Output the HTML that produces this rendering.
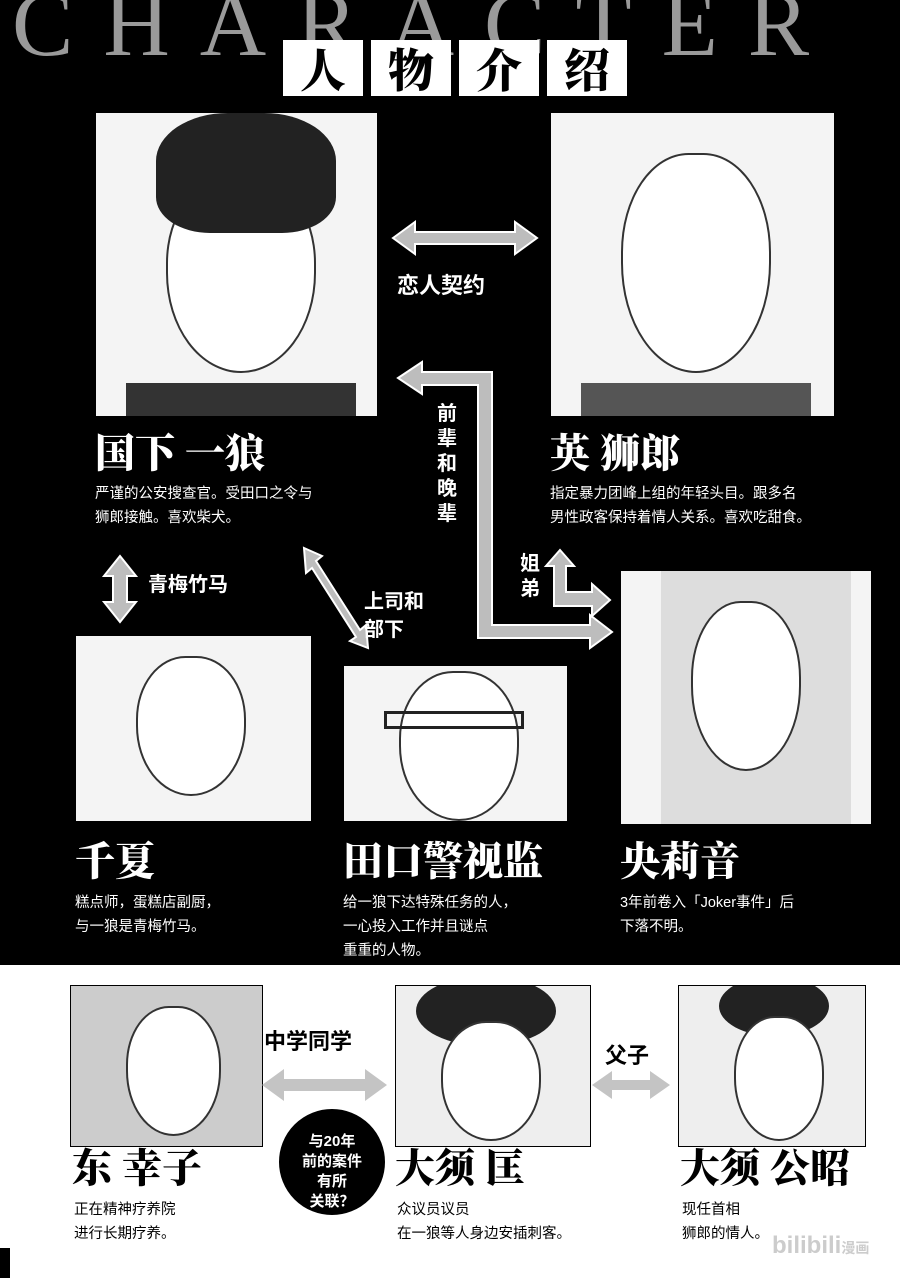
<!DOCTYPE html>
<html><head><meta charset="utf-8"><style>
*{margin:0;padding:0;box-sizing:border-box}
body{width:900px;height:1278px;position:relative;overflow:hidden;background:#000;font-family:"Liberation Sans","Noto Sans CJK SC",sans-serif}
.a{position:absolute}
.p{position:absolute;background:#f4f4f4;border:1px solid #000;overflow:hidden}
.w{color:#fff}
.nm{position:absolute;font-family:"Liberation Serif","Noto Serif CJK SC",serif;font-weight:900;font-size:40px;line-height:44px}
.ds{position:absolute;font-size:14.5px;line-height:24px}
.hair{position:absolute;background:#222;border-radius:50%}
.face{position:absolute;background:#fff;border:2px solid #333;border-radius:45% 45% 50% 50%}
</style></head><body>
<div class="a" style="left:0;top:-22px;width:900px;font-family:'Liberation Serif',serif;font-size:92px;color:#9a9a9a;letter-spacing:30px;line-height:92px;padding-left:12px">CHARACTER</div>
<div class="a" style="left:283px;top:40px;display:flex;gap:8px">
<div style="width:80px;height:56px;background:#fff;font-size:46px;line-height:56px;text-align:center;font-family:'Noto Serif CJK SC',serif;font-weight:900">人</div>
<div style="width:80px;height:56px;background:#fff;font-size:46px;line-height:56px;text-align:center;font-family:'Noto Serif CJK SC',serif;font-weight:900">物</div>
<div style="width:80px;height:56px;background:#fff;font-size:46px;line-height:56px;text-align:center;font-family:'Noto Serif CJK SC',serif;font-weight:900">介</div>
<div style="width:80px;height:56px;background:#fff;font-size:46px;line-height:56px;text-align:center;font-family:'Noto Serif CJK SC',serif;font-weight:900">绍</div>
</div>

<!-- top panels -->
<div class="p" style="left:95px;top:112px;width:283px;height:305px">
<div class="face" style="left:70px;top:60px;width:150px;height:200px"></div>
<div class="hair" style="left:60px;top:0;width:180px;height:120px;border-radius:40% 40% 30% 30%"></div>
<div class="a" style="left:30px;top:270px;width:230px;height:60px;background:#333"></div>
</div>
<div class="p" style="left:550px;top:112px;width:285px;height:305px">
<div class="face" style="left:70px;top:40px;width:150px;height:220px"></div>
<div class="a" style="left:30px;top:270px;width:230px;height:60px;background:#555"></div>
</div>

<svg class="a" style="left:0;top:0" width="900" height="965">
<g fill="#bdbdbd" stroke="#fff" stroke-width="2">
<polygon points="393,238 415,222 415,232 515,232 515,222 537,238 515,254 515,244 415,244 415,254"/>
<polygon points="398,378 422,362 422,372 492,372 492,625 590,625 590,615 612,632 590,648 590,638 478,638 478,385 422,385 422,394"/>
<polygon points="560,550 574,566 566,566 566,592 592,592 592,584 610,600 592,616 592,606 554,606 554,566 546,566"/>
<polygon points="120,556 136,576 127,576 127,602 136,602 120,622 104,602 113,602 113,576 104,576"/>
<polygon points="304,548 322,556 316,561 360,630 366,625 368,648 350,641 356,637 312,568 306,573"/>
</g>
</svg>
<div class="a w" style="left:397px;top:268px;font-size:22px;font-weight:700">恋人契约</div>
<div class="a w" style="left:437px;top:402px;width:24px;font-size:20px;line-height:25px;font-weight:700">前辈和晚辈</div>
<div class="a w" style="left:520px;top:552px;width:24px;font-size:20px;line-height:25px;font-weight:700">姐弟</div>
<div class="a w" style="left:148px;top:568px;font-size:20px;font-weight:700">青梅竹马</div>
<div class="a w" style="left:364px;top:588px;font-size:20px;line-height:28px;font-weight:700">上司和<br>部下</div>

<div class="nm w" style="left:95px;top:432px">国下 一狼</div>
<div class="ds w" style="left:95px;top:482px">严谨的公安搜查官。受田口之令与<br>狮郎接触。喜欢柴犬。</div>
<div class="nm w" style="left:550px;top:432px">英 狮郎</div>
<div class="ds w" style="left:550px;top:482px">指定暴力团峰上组的年轻头目。跟多名<br>男性政客保持着情人关系。喜欢吃甜食。</div>

<!-- middle panels -->
<div class="p" style="left:75px;top:635px;width:237px;height:187px">
<div class="face" style="left:60px;top:20px;width:110px;height:140px"></div>
</div>
<div class="p" style="left:343px;top:665px;width:225px;height:157px">
<div class="face" style="left:55px;top:5px;width:120px;height:150px"></div>
<div class="a" style="left:40px;top:45px;width:140px;height:18px;border:3px solid #222"></div>
</div>
<div class="p" style="left:620px;top:570px;width:252px;height:255px">
<div class="a" style="left:40px;top:0;width:190px;height:255px;background:#ddd"></div>
<div class="face" style="left:70px;top:30px;width:110px;height:170px"></div>
</div>

<div class="nm w" style="left:75px;top:840px">千夏</div>
<div class="ds w" style="left:75px;top:891px">糕点师，蛋糕店副厨，<br>与一狼是青梅竹马。</div>
<div class="nm w" style="left:343px;top:840px">田口警视监</div>
<div class="ds w" style="left:343px;top:891px">给一狼下达特殊任务的人，<br>一心投入工作并且谜点<br>重重的人物。</div>
<div class="nm w" style="left:620px;top:840px">央莉音</div>
<div class="ds w" style="left:620px;top:891px">3年前卷入「Joker事件」后<br>下落不明。</div>

<!-- bottom -->
<div class="a" style="left:0;top:965px;width:900px;height:313px;background:#fff"></div>
<div class="a" style="left:0;top:1248px;width:10px;height:30px;background:#000"></div>
<div class="p" style="left:70px;top:985px;width:193px;height:162px;background:#ccc"><div class="face" style="left:55px;top:20px;width:95px;height:130px"></div></div>
<div class="p" style="left:395px;top:985px;width:196px;height:162px;background:#eee"><div class="hair" style="left:20px;top:-10px;width:140px;height:70px"></div><div class="face" style="left:45px;top:35px;width:100px;height:120px"></div></div>
<div class="p" style="left:678px;top:985px;width:188px;height:162px;background:#eee"><div class="hair" style="left:40px;top:-10px;width:110px;height:60px"></div><div class="face" style="left:55px;top:30px;width:90px;height:125px"></div></div>
<svg class="a" style="left:0;top:965px" width="900" height="313">
<g fill="#c4c4c4"><polygon points="262,120 284,104 284,114 365,114 365,104 387,120 365,136 365,126 284,126 284,136"/>
<polygon points="592,120 612,106 612,115 650,115 650,106 670,120 650,134 650,125 612,125 612,134"/></g>
<circle cx="332" cy="197" r="55" fill="#000" stroke="#fff" stroke-width="4"/>
</svg>
<div class="a" style="left:264px;top:1024px;font-size:22px;font-weight:700">中学同学</div>
<div class="a" style="left:605px;top:1038px;font-size:22px;font-weight:700">父子</div>
<div class="a w" style="left:292px;top:1132px;width:80px;text-align:center;font-size:15px;line-height:20px;font-weight:700">与20年<br>前的案件<br>有所<br>关联？</div>
<div class="nm" style="left:72px;top:1147px">东 幸子</div>
<div class="ds" style="left:74px;top:1198px">正在精神疗养院<br>进行长期疗养。</div>
<div class="nm" style="left:395px;top:1147px">大须 匡</div>
<div class="ds" style="left:397px;top:1198px">众议员议员<br>在一狼等人身边安插刺客。</div>
<div class="nm" style="left:680px;top:1147px">大须 公昭</div>
<div class="ds" style="left:682px;top:1198px">现任首相<br>狮郎的情人。</div>
<div class="a" style="left:772px;top:1232px;color:#ccc;font-size:24px;font-weight:700">bilibili<span style="font-size:14px">漫画</span></div>
</body></html>
